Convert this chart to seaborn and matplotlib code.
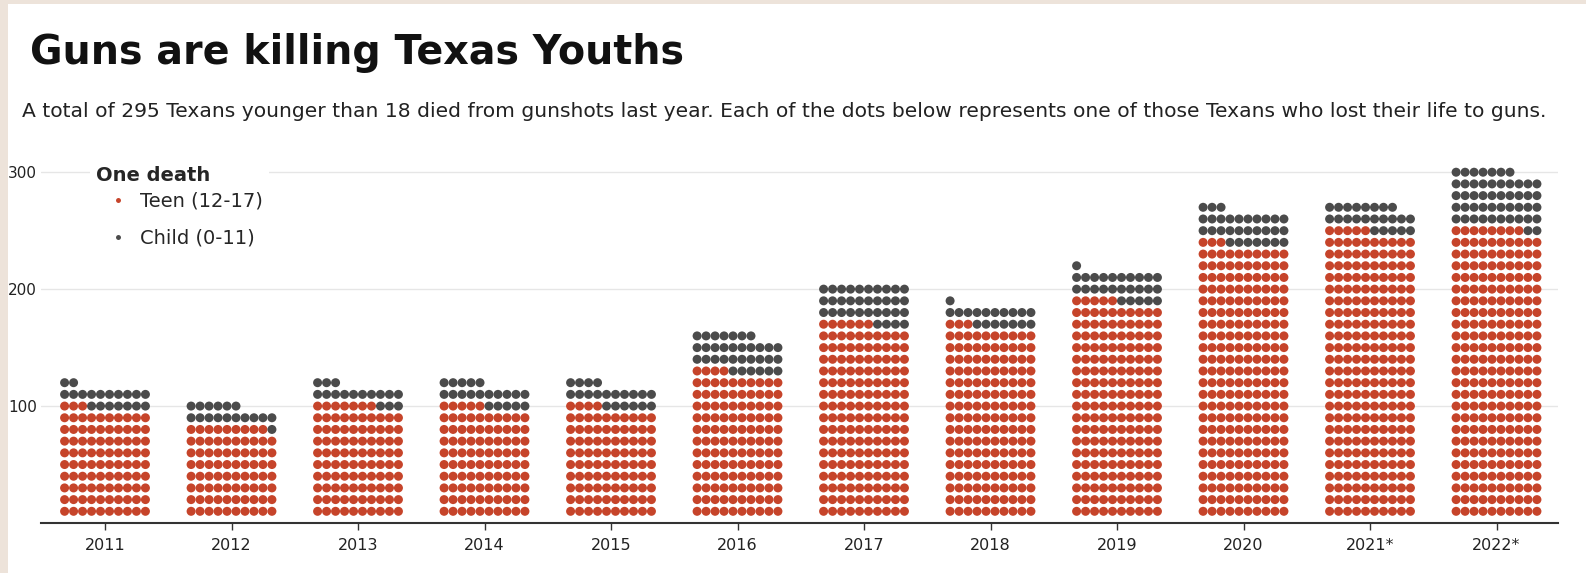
import matplotlib
matplotlib.use("Agg")
import matplotlib.pyplot as plt
from matplotlib.patches import Rectangle
import numpy as np
import pandas as pd
import seaborn as sns

# deaths per year (one dot = one death)
years = ['2011', '2012', '2013', '2014', '2015', '2016',
         '2017', '2018', '2019', '2020', '2021*', '2022*']
teen = [93, 79, 97, 95, 94, 124, 166, 163, 185, 233, 245, 248]
child = [19, 17, 16, 20, 20, 33, 34, 18, 26, 30, 23, 49]
y_ticks = [100, 200, 300]

teen_label = 'Teen (12-17)'
child_label = 'Child (0-11)'
red = '#C6442A'
grey = '#4B4B4B'

# build the dot grid: 10 dots per row, teens first then children
per_row = 10
dx = 0.071
rows = []
for i, yr in enumerate(years):
    kinds = [teen_label] * teen[i] + [child_label] * child[i]
    for n, kind in enumerate(kinds):
        col = n % per_row
        row = n // per_row + 1
        rows.append({'year': yr, 'x': i + (col - 4.5) * dx, 'y': row * 10, 'group': kind})
dots = pd.DataFrame(rows)

sns.set_theme(style='white')
plt.rcParams['font.family'] = ['DejaVu Sans']

fig = plt.figure(figsize=(15.86, 5.73), dpi=100)
fig.patch.set_facecolor('#EDE3DA')
fig.add_artist(Rectangle((8 / 1586, 0), 1, 1 - 4 / 573, transform=fig.transFigure,
                         facecolor='white', edgecolor='none', zorder=-10))

ax = fig.add_axes([41 / 1586, 1 - 523 / 573, (1558 - 41) / 1586, (523 - 150) / 573])
ax.set_facecolor('none')

sns.scatterplot(data=dots, x='x', y='y', hue='group', hue_order=[teen_label, child_label],
                palette={teen_label: red, child_label: grey}, s=42, linewidth=0, ax=ax, zorder=3)

ax.set_xlim(-0.506, 11.486)
ax.set_ylim(0, 319)
ax.set_xticks(range(len(years)))
ax.set_xticklabels(years, fontsize=11.5, color='#222222')
ax.set_yticks(y_ticks)
ax.set_yticklabels([str(t) for t in y_ticks], fontsize=11, color='#222222')
ax.set_xlabel('')
ax.set_ylabel('')
ax.tick_params(axis='x', length=5, width=1, color='#333333', pad=6, bottom=True)
ax.tick_params(axis='y', length=0, pad=3)
ax.grid(axis='y', color='#E6E6E6', linewidth=1)
ax.set_axisbelow(True)
for side in ['top', 'right', 'left']:
    ax.spines[side].set_visible(False)
ax.spines['bottom'].set_color('#333333')
ax.spines['bottom'].set_linewidth(1.5)

handles, labels = ax.get_legend_handles_labels()
leg = ax.legend(handles, labels, title='One death', loc='upper left',
                bbox_to_anchor=(80 / 1586, 1 - 150 / 573), bbox_transform=fig.transFigure,
                fontsize=14, title_fontsize=14, alignment='left', frameon=True,
                facecolor='white', edgecolor='none', framealpha=1, markerscale=0.55,
                labelspacing=0.95, handlelength=2.3, handletextpad=0.0, borderpad=0.3)
leg.get_title().set_fontweight('bold')
leg._legend_box.sep = 5
leg.set_zorder(5)

fig.text(30 / 1586, 1 - 64 / 573, 'Guns are killing Texas Youths', fontsize=28.5,
         fontweight='bold', color='#111111', va='baseline')
fig.text(22 / 1586, 1 - 117 / 573,
         'A total of 295 Texans younger than 18 died from gunshots last year. '
         'Each of the dots below represents one of those Texans who lost their life to guns.',
         fontsize=14.6, color='#222222', va='baseline')

fig.savefig('out.png', dpi=100, facecolor=fig.get_facecolor())
